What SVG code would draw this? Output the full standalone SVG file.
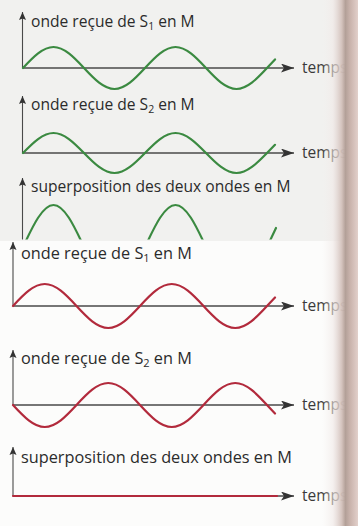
<svg xmlns="http://www.w3.org/2000/svg" width="358" height="526" viewBox="0 0 358 526">
<defs>
<style>
.lbl{font-family:"Open Sans","Noto Sans","Liberation Sans",sans-serif;fill:#2b2b2b}
.g .lbl{font-size:15.6px}
.r .lbl{font-size:16.3px}
.t{font-family:"Open Sans","Noto Sans","Liberation Sans",sans-serif;font-size:15.5px;fill:#3a3a3a}
.ax{stroke:#4a4a4a;stroke-width:1.3;fill:none}
.vx{stroke:#4a4a4a;stroke-width:1.1;fill:none;marker-end:url(#va)}
.hx{marker-end:url(#ha)}
.gw{stroke:#3b8a41;stroke-width:2.2;fill:none;stroke-linecap:round}
.rw{stroke:#b22a3c;stroke-width:2.2;fill:none;stroke-linecap:round}
</style>
<marker id="va" markerUnits="userSpaceOnUse" markerWidth="8" markerHeight="10" refX="8" refY="3.5" orient="auto" viewBox="0 0 8 7">
<path d="M0,0 L8,3.5 L0,7 L1.5,3.5 z" fill="#333"/>
</marker>
<marker id="ha" markerUnits="userSpaceOnUse" markerWidth="13" markerHeight="9" refX="13" refY="4.5" orient="auto" viewBox="0 0 13 9">
<path d="M0,0 L13,4.5 L0,9 L3,4.5 z" fill="#333"/>
</marker>
<clipPath id="cut"><rect x="0" y="170" width="358" height="69.5"/></clipPath>
<linearGradient id="sh" x1="0" y1="0" x2="1" y2="0">
<stop offset="0" stop-color="#f4f0ee" stop-opacity="0"/>
<stop offset="0.3" stop-color="#f0e8e6" stop-opacity="0.6"/>
<stop offset="0.55" stop-color="#d2c0ba" stop-opacity="0.95"/>
<stop offset="0.65" stop-color="#b3a098"/>
<stop offset="0.78" stop-color="#c9b3ac"/>
<stop offset="1" stop-color="#e2d0cb"/>
</linearGradient>
</defs>
<rect x="0" y="0" width="358" height="526" fill="#f1f1ef"/>
<rect x="0" y="241" width="358" height="285" fill="#fcfcfb"/>

<g id="panel-g1" class="g">
<line class="vx" x1="22.5" y1="68" x2="22.5" y2="12"/>
<text class="lbl" x="31" y="27">onde reçue de S<tspan font-size="10.5" dy="3">1</tspan><tspan dy="-3"> en M</tspan></text>
<line class="ax hx" x1="22.5" y1="68" x2="294" y2="68"/>
<text class="t" x="302" y="73">temps</text>
<path class="gw" d="M23,68 C33.2,57 42.9,47 53.5,47 S73.8,57 84,68 S103.9,89 114.5,89 S134.8,79 145,68 S164.9,47 175.5,47 S195.8,57 206,68 S225.9,89 236.5,89 S256.8,79 267,68 L275,59.4"/>
</g>

<g id="panel-g2" class="g">
<line class="vx" x1="22.5" y1="153" x2="22.5" y2="96"/>
<text class="lbl" x="31" y="110">onde reçue de S<tspan font-size="10.5" dy="3">2</tspan><tspan dy="-3"> en M</tspan></text>
<line class="ax hx" x1="22.5" y1="153" x2="294" y2="153"/>
<text class="t" x="302" y="158">temps</text>
<path class="gw" d="M23,153 C33.2,142.5 42.9,133 53.5,133 S73.8,142.5 84,153 S103.9,173 114.5,173 S134.8,163.5 145,153 S164.9,133 175.5,133 S195.8,142.5 206,153 S225.9,173 236.5,173 S256.8,163.5 267,153 L275,144.8"/>
</g>

<g id="panel-g3" class="g">
<line class="vx" x1="22.5" y1="239.5" x2="22.5" y2="178"/>
<text class="lbl" x="31" y="192">superposition des deux ondes en M</text>
<path class="gw" clip-path="url(#cut)" d="M23,247 C33.2,225 42.9,205 53.5,205 S73.8,225 84,247 S103.9,289 114.5,289 S134.8,269 145,247 S164.9,205 175.5,205 S195.8,225 206,247 S225.9,289 236.5,289 S256.8,269 267,247 L276,228"/>
</g>

<g id="panel-r1" class="r">
<line class="vx" x1="13" y1="306" x2="13" y2="242"/>
<text class="lbl" x="21" y="259">onde reçue de S<tspan font-size="11" dy="3">1</tspan><tspan dy="-3"> en M</tspan></text>
<line class="ax hx" x1="13" y1="306" x2="294" y2="306"/>
<text class="t" x="302" y="311">temps</text>
<path class="rw" d="M13,306 C23.6,294.45 33.7,284 44.75,284 S65.9,294.45 76.5,306 S97.2,328 108.25,328 S129.4,317.55 140,306 S160.7,284 171.75,284 S192.9,294.45 203.5,306 S224.2,328 235.25,328 S256.4,317.55 267,306 L275,297.5"/>
</g>

<g id="panel-r2" class="r">
<line class="vx" x1="13" y1="405" x2="13" y2="350"/>
<text class="lbl" x="21" y="364">onde reçue de S<tspan font-size="11" dy="3">2</tspan><tspan dy="-3"> en M</tspan></text>
<line class="ax hx" x1="13" y1="405" x2="294" y2="405"/>
<text class="t" x="302" y="410">temps</text>
<path class="rw" d="M13,405 C23.6,416.55 33.7,427 44.75,427 S65.9,416.55 76.5,405 S97.2,383 108.25,383 S129.4,393.45 140,405 S160.7,427 171.75,427 S192.9,416.55 203.5,405 S224.2,383 235.25,383 S256.4,393.45 267,405 L275,413.5"/>
</g>

<g id="panel-r3" class="r">
<line class="vx" x1="13" y1="496" x2="13" y2="447"/>
<text class="lbl" x="21" y="463">superposition des deux ondes en M</text>
<line class="ax hx" x1="13" y1="496" x2="294" y2="496"/>
<text class="t" x="302" y="501">temps</text>
<line class="rw" x1="13" y1="496" x2="277" y2="496" stroke-linecap="butt"/>
</g>

<rect x="322" y="0" width="36" height="526" fill="url(#sh)"/>
</svg>
